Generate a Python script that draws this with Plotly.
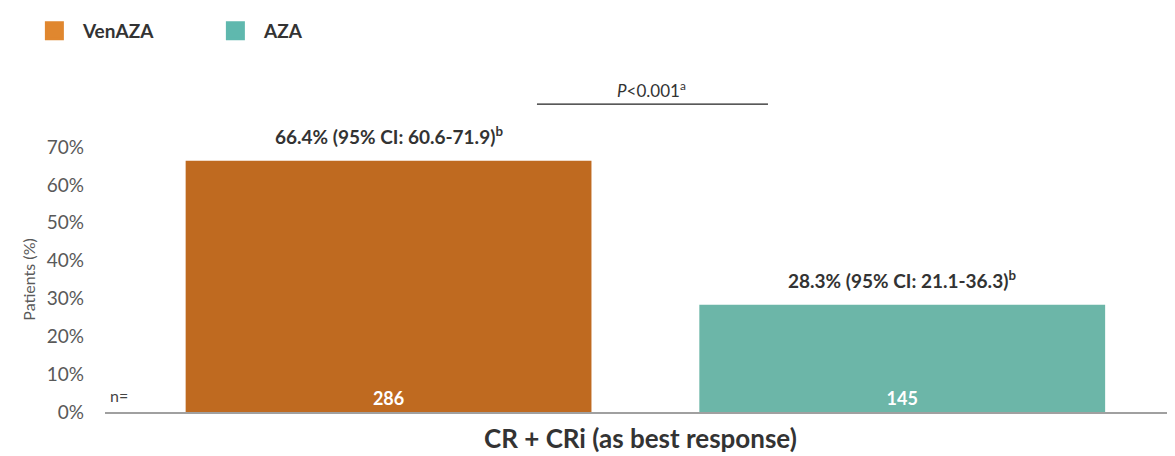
import plotly.graph_objects as go

# Data
groups = ["VenAZA", "AZA"]
values = [66.4, 28.3]
n_values = ["286", "145"]
ci_labels = ["66.4% (95% CI: 60.6-71.9)<sup>b</sup>", "28.3% (95% CI: 21.1-36.3)<sup>b</sup>"]
y_ticks = [0, 10, 20, 30, 40, 50, 60, 70]
y_tick_labels = ["0%", "10%", "20%", "30%", "40%", "50%", "60%", "70%"]
category_label = "CR + CRi (as best response)"
p_label = "<i>P</i><0.001<sup>a</sup>"

colors = ["#BF6A20", "#6CB6A8"]
legend_colors = ["#E0872F", "#5FB8AE"]
FONT = "Lato, 'Open Sans', sans-serif"

fig = go.Figure()
for g, v, n, c in zip(groups, values, n_values, colors):
    fig.add_trace(go.Bar(
        x=[g], y=[v], name=g, width=0.79, showlegend=False,
        marker=dict(color=c, line=dict(width=0)),
        text=[n], textposition="inside", insidetextanchor="start",
        textfont=dict(color="white", size=18, family=FONT, weight="bold"),
        cliponaxis=False, hoverinfo="skip",
    ))

# legend entries (larger square swatches)
for g, lc in zip(groups, legend_colors):
    fig.add_trace(go.Scatter(
        x=[None], y=[None], name="\u00a0\u00a0" + g, mode="markers", showlegend=True,
        marker=dict(symbol="square", size=16, color=lc, line=dict(color=lc, width=3)),
        hoverinfo="skip",
    ))

for g, v, lab in zip(groups, values, ci_labels):
    fig.add_annotation(x=g, y=v, text=lab, showarrow=False, yanchor="bottom",
                       yshift=11, font=dict(size=19, color="#333333", family=FONT, weight="bold"))

# n= label
fig.add_annotation(x=0, xref="paper", y=0, yref="y", text="n=", showarrow=False,
                   xanchor="left", yanchor="bottom", xshift=3, yshift=5,
                   font=dict(size=16, color="#444444", family=FONT))

# p-value bracket
fig.add_shape(type="line", xref="paper", yref="paper", x0=0.4037, x1=0.6196, y0=1.162, y1=1.162,
              line=dict(color="#222222", width=1.3))
fig.add_annotation(x=0.511, xref="paper", y=1.162, yref="paper", text=p_label, showarrow=False,
                   yanchor="bottom", yshift=1, font=dict(size=17, color="#333333", family=FONT))

# category label
fig.add_annotation(x=0.5, xref="paper", y=-0.098, yref="paper", text=category_label,
                   showarrow=False, yanchor="middle",
                   font=dict(size=26, color="#333333", family=FONT, weight="bold"))

# page body has an 8px margin, so the figure is sized/offset to compensate
fig.update_layout(
    width=1167, height=448,
    margin=dict(l=97, r=0, t=139, b=44, autoexpand=False),
    paper_bgcolor="white", plot_bgcolor="white",
    barmode="overlay",
    font=dict(family=FONT, color="#555555"),
    showlegend=True,
    legend=dict(orientation="h", x=-0.066, xanchor="left", y=1.4377, yanchor="middle",
                font=dict(size=19, color="#333333", family=FONT, weight="bold"),
                itemsizing="trace",
                entrywidth=136, entrywidthmode="pixels", itemclick=False),
    xaxis=dict(range=[-0.552, 1.531], showticklabels=False, ticks="",
               showline=True, linecolor="#A0A0A0", linewidth=1.5, showgrid=False, zeroline=False),
    yaxis=dict(range=[0, 70], tickvals=y_ticks, ticktext=y_tick_labels, showgrid=False,
               zeroline=False, showline=False, ticks="", ticklabelstandoff=20,
               tickfont=dict(size=19, color="#595959", family=FONT),
               title=dict(text="Patients (%)", font=dict(size=16, color="#595959", family=FONT),
                          standoff=7)),
)

fig.write_html("out.html")
